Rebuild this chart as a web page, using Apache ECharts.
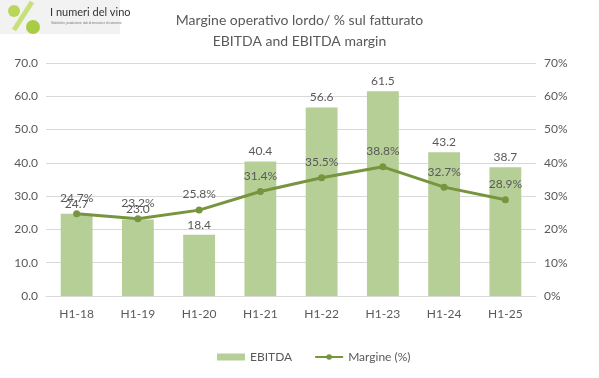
<!DOCTYPE html>
<html><head><meta charset="utf-8">
<script src="https://cdn.jsdelivr.net/npm/echarts@6/dist/echarts.min.js"></script>
<style>html,body{margin:0;padding:0;background:#fff}#c{width:599px;height:378px}</style>
</head><body><div id="c"></div>
<script>
const categories = ['H1-18','H1-19','H1-20','H1-21','H1-22','H1-23','H1-24','H1-25'];
const ebitda = [24.7, 23.0, 18.4, 40.4, 56.6, 61.5, 43.2, 38.7];
const margin = [24.7, 23.2, 25.8, 31.4, 35.5, 38.8, 32.7, 28.9];
const leftTicks = {min: 0, max: 70, interval: 10};
const rightTicks = {min: 0, max: 70, interval: 10};

const txt = '#595959';
const chart = echarts.init(document.getElementById('c'));
chart.setOption({
  animation: false,
  textStyle: {fontFamily: 'Lato, "Open Sans", sans-serif'},
  title: {
    text: 'Margine operativo lordo/ % sul fatturato\nEBITDA and EBITDA margin',
    left: 'center', top: 5,
    textStyle: {color: txt, fontSize: 14, fontWeight: 'normal', lineHeight: 21, fontFamily: 'Lato, sans-serif'}
  },
  graphic: [
    {type: 'rect', shape: {x: 0, y: 0, width: 120, height: 34}, style: {fill: '#f2f2f2'}},
    {type: 'line', shape: {x1: 14, y1: 30, x2: 32, y2: 2}, style: {stroke: '#c8e07a', lineWidth: 5}},
    {type: 'circle', shape: {cx: 14, cy: 11, r: 6}, style: {fill: '#b9d65a'}},
    {type: 'circle', shape: {cx: 33, cy: 27, r: 7}, style: {fill: '#a8cc45'}},
    {type: 'text', left: 50, top: 7, style: {text: 'I numeri del vino', fill: '#333', font: '11px Lato, sans-serif'}},
    {type: 'text', left: 51, top: 22, style: {text: 'Statistiche, produzione, dati di mercato e di consumo', fill: '#777', font: '3px sans-serif'}}
  ],
  legend: {
    bottom: 10, left: 212, itemGap: 22,
    textStyle: {color: txt, fontSize: 12},
    data: [
      {name: 'EBITDA', icon: 'rect'},
      {name: 'Margine (%)'}
    ],
    itemWidth: 28, itemHeight: 7
  },
  grid: {left: 46, right: 63, top: 63, bottom: 82},
  xAxis: {
    type: 'category', data: categories,
    axisLine: {lineStyle: {color: '#d9d9d9'}},
    axisTick: {show: false},
    axisLabel: {color: txt, fontSize: 12, margin: 12}
  },
  yAxis: [
    {type: 'value', min: leftTicks.min, max: leftTicks.max, interval: leftTicks.interval,
     axisLabel: {color: txt, fontSize: 12, formatter: v => v.toFixed(1), margin: 8},
     splitLine: {lineStyle: {color: '#d9d9d9'}}, axisLine: {show: false}},
    {type: 'value', min: rightTicks.min, max: rightTicks.max, interval: rightTicks.interval,
     axisLabel: {color: txt, fontSize: 12, formatter: v => v + '%', margin: 8},
     splitLine: {show: false}, axisLine: {show: false}}
  ],
  series: [
    {name: 'EBITDA', type: 'bar', data: ebitda, barWidth: '52%', yAxisIndex: 0,
     itemStyle: {color: '#b5cf97'},
     label: {show: true, position: 'top', color: txt, fontSize: 12, formatter: p => p.value.toFixed(1), distance: 4}},
    {name: 'Margine (%)', type: 'line', data: margin, yAxisIndex: 1,
     lineStyle: {color: '#76953e', width: 3},
     itemStyle: {color: '#76953e'}, symbol: 'circle', symbolSize: 7,
     label: {show: true, position: 'top', color: txt, fontSize: 12, formatter: p => p.value.toFixed(1) + '%', distance: 6}}
  ]
});
</script></body></html>
